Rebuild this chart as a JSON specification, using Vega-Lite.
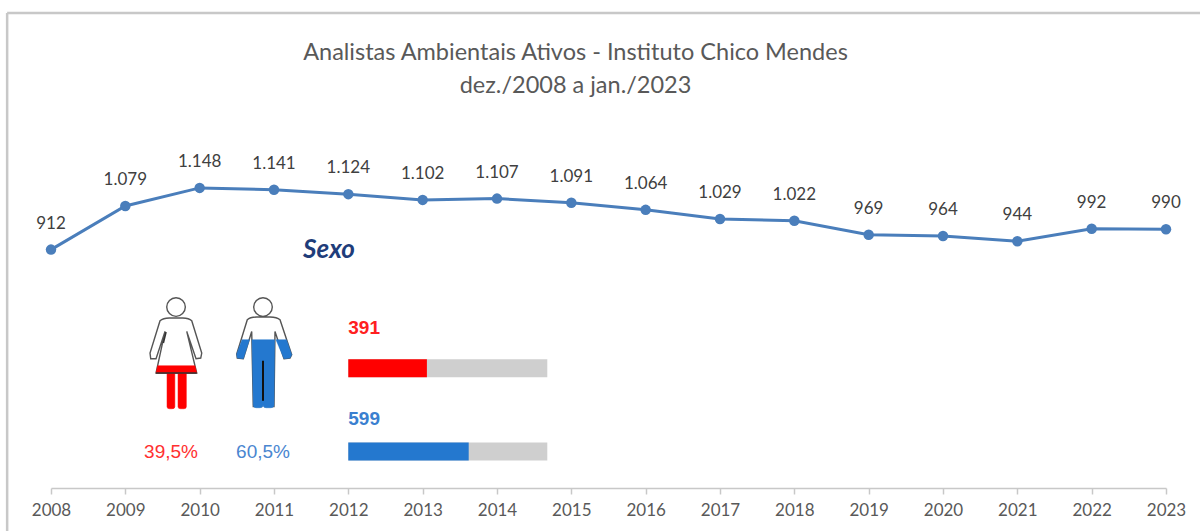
{
"$schema":"https://vega.github.io/schema/vega-lite/v6.json",
"width":1115,"height":475,
"autosize":{"type":"none"},
"padding":{"left":51,"top":13,"right":34,"bottom":43},
"background":"white",
"config":{"view":{"stroke":null}},
"title":{"text":["Analistas Ambientais Ativos - Instituto  Chico Mendes","dez./2008  a jan./2023"],"anchor":"middle","frame":"group","dx":-33,"dy":90,"font":"Lato","fontSize":23.5,"fontWeight":"normal","lineHeight":33,"color":"#595959"},
"datasets":{
"serie":[
{"ano":2008,"ativos":912,"rotulo":"912"},{"ano":2009,"ativos":1079,"rotulo":"1.079"},{"ano":2010,"ativos":1148,"rotulo":"1.148"},{"ano":2011,"ativos":1141,"rotulo":"1.141"},{"ano":2012,"ativos":1124,"rotulo":"1.124"},{"ano":2013,"ativos":1102,"rotulo":"1.102"},{"ano":2014,"ativos":1107,"rotulo":"1.107"},{"ano":2015,"ativos":1091,"rotulo":"1.091"},{"ano":2016,"ativos":1064,"rotulo":"1.064"},{"ano":2017,"ativos":1029,"rotulo":"1.029"},{"ano":2018,"ativos":1022,"rotulo":"1.022"},{"ano":2019,"ativos":969,"rotulo":"969"},{"ano":2020,"ativos":964,"rotulo":"964"},{"ano":2021,"ativos":944,"rotulo":"944"},{"ano":2022,"ativos":992,"rotulo":"992"},{"ano":2023,"ativos":990,"rotulo":"990"}],
"sexo":[
{"sexo":"Feminino","total":990,"n":391,"pct":"39,5%"},
{"sexo":"Masculino","total":990,"n":599,"pct":"60,5%"}]
},
"data":{"name":"serie"},
"resolve":{"scale":{"x":"independent","y":"independent","color":"independent"},"axis":{"x":"independent","y":"independent"}},
"layer":[
{"encoding":{
"x":{"field":"ano","type":"quantitative","scale":{"domain":[2008,2023],"nice":false,"zero":false},
"axis":{"values":[2008,2009,2010,2011,2012,2013,2014,2015,2016,2017,2018,2019,2020,2021,2022,2023],"format":"d","title":null,"grid":false,"domainColor":"#c8c8c8","domainWidth":1.5,"tickColor":"#c8c8c8","tickWidth":1.5,"tickSize":6,"labelFont":"Lato","labelFontSize":17,"labelColor":"#595959","labelPadding":8,"labelOverlap":false,"labelFlush":false}},
"y":{"field":"ativos","type":"quantitative","scale":{"domain":[0,1817],"nice":false,"zero":false},"axis":null}},
"layer":[
{"mark":{"type":"line","color":"#4a7ebb","strokeWidth":3}},
{"mark":{"type":"point","filled":true,"color":"#4a7ebb","opacity":1,"size":110}},
{"mark":{"type":"text","font":"Lato","fontSize":17,"color":"#404040","baseline":"middle","dy":-26},"encoding":{"text":{"field":"rotulo"}}}
]},
{"data":{"values":[{"item":"moldura"}]},"mark":{"type":"rule","color":"#c8c8c8","strokeWidth":2.5},"encoding":{"x":{"datum":2007.41,"type":"quantitative","scale":{"domain":[2008,2023],"nice":false,"zero":false},"axis":null},"y":{"datum":1817,"type":"quantitative","scale":{"domain":[0,1817],"nice":false,"zero":false},"axis":null},"y2":{"datum":-165}}},
{"data":{"values":[{"item":"moldura"}]},"mark":{"type":"rule","color":"#c8c8c8","strokeWidth":2.5},"encoding":{"x":{"datum":2007.41,"type":"quantitative","scale":{"domain":[2008,2023],"nice":false,"zero":false},"axis":null},"x2":{"datum":2023.46},"y":{"datum":1817,"type":"quantitative","scale":{"domain":[0,1817],"nice":false,"zero":false},"axis":null}}},
{"data":{"values":[{"item":"Sexo"}]},"mark":{"type":"text","font":"Lato","fontSize":26,"fontWeight":"bold","fontStyle":"italic","color":"#1f3d7a","baseline":"middle"},"encoding":{"x":{"datum":2011.74,"type":"quantitative","scale":{"domain":[2008,2023],"nice":false,"zero":false},"axis":null},"y":{"datum":910,"type":"quantitative","scale":{"domain":[0,1817],"nice":false,"zero":false},"axis":null},"text":{"field":"item"}}},
{"data":{"values":[{"sexo":"Feminino"}]},
"encoding":{"x":{"datum":2009.682,"type":"quantitative","scale":{"domain":[2008,2023],"nice":false,"zero":false},"axis":null},"y":{"datum":548,"type":"quantitative","scale":{"domain":[0,1817],"nice":false,"zero":false},"axis":null}},
"layer":[
{"mark":{"type":"point","shape":"M-6.7,-26.7 L6.7,-26.7 Q13,-26.5 15.7,-24 L25.7,8.3 L24.7,13.3 L20,14 L10.7,-13.3 L20.7,28.3 L-20,28.3 L-11,-13.3 L-20,14 L-25.3,14 L-26,8.3 L-16,-24 Q-13,-26.5 -6.7,-26.7 Z M-9.3,-37.7 a9.3,9.3 0 1,0 18.6,0 a9.3,9.3 0 1,0 -18.6,0 Z","size":4,"filled":true,"fill":"white","stroke":"#555555","strokeWidth":1.4,"opacity":1}},
{"mark":{"type":"point","shape":"M-18.4,21 L18.9,21 L20.7,28.3 L-20,28.3 Z M-9,28 L-1.2,28 L-1.2,62 Q-1.2,64 -4,64 L-6.5,64 Q-9,64 -9,62 Z M2,28 L10.3,28 L10.3,62 Q10.3,64 8,64 L4.5,64 Q2,64 2,62 Z","size":4,"filled":true,"fill":"#ff0000","stroke":"#ff0000","strokeWidth":0.5,"opacity":1}},
{"mark":{"type":"point","shape":"M-20,28.3 L20.7,28.3 M-10,-12.7 L-12.7,-1.7","size":4,"filled":false,"stroke":"#333333","strokeWidth":1.6,"opacity":1}}
]},
{"data":{"values":[{"sexo":"Masculino"}]},
"encoding":{"x":{"datum":2010.852,"type":"quantitative","scale":{"domain":[2008,2023],"nice":false,"zero":false},"axis":null},"y":{"datum":548,"type":"quantitative","scale":{"domain":[0,1817],"nice":false,"zero":false},"axis":null}},
"layer":[
{"mark":{"type":"point","shape":"M-6.3,-27.7 L7,-27.7 Q14,-27.5 17,-25 L28.7,10 L27,13.3 L21,14 L12,-13.3 L11,61.7 L2,61.7 L1.3,16 L-1.3,16 L-1.3,61.7 L-9.7,61.7 L-11.3,-13.3 L-19.7,14 L-25.7,13.3 L-26.3,9.3 L-15.7,-25 Q-13,-27.5 -6.3,-27.7 Z M-9.3,-37.7 a9.3,9.3 0 1,0 18.6,0 a9.3,9.3 0 1,0 -18.6,0 Z","size":4,"filled":true,"fill":"white","stroke":"#555555","strokeWidth":1.4,"opacity":1}},
{"mark":{"type":"point","shape":"M-11,-5 L11.6,-5 L11,60 Q11,63 8,63 L3,63 Q0,63 0,60 Q0,63 -3,63 L-7,63 Q-9.7,63 -9.7,60 Z M13,-5 L23.5,-5 L28.7,10 L27,13.3 L21,14 Z M-21,-5 L-13.5,-5 L-19.7,14 L-25.7,13.3 L-26.3,9.3 Z","size":4,"filled":true,"fill":"#2478cf","stroke":"#2478cf","strokeWidth":0.5,"opacity":1}},
{"mark":{"type":"point","shape":"M0,16 L0,56","size":4,"filled":false,"stroke":"#111111","strokeWidth":2,"opacity":1}}
]},
{"data":{"name":"sexo"},
"encoding":{"y":{"field":"sexo","type":"nominal","scale":{"type":"point","padding":0,"domain":["Feminino","Masculino"],"range":[355.3,438.5]},"axis":null}},
"layer":[
{"mark":{"type":"bar","color":"#cfcfcf","size":18},"encoding":{"x":{"field":"total","type":"quantitative","stack":null,"scale":{"domain":[0,990],"range":[297.3,496.3],"nice":false},"axis":null}}},
{"mark":{"type":"bar","size":18},"encoding":{"x":{"field":"n","type":"quantitative","stack":null,"axis":null},"color":{"field":"sexo","type":"nominal","scale":{"domain":["Feminino","Masculino"],"range":["#ff0000","#2478cf"]},"legend":null}}}
]},
{"data":{"name":"sexo"},
"mark":{"type":"text","font":"Liberation Sans","fontSize":19,"fontWeight":"bold","align":"left","baseline":"middle"},
"encoding":{
"x":{"datum":0,"type":"quantitative","scale":{"domain":[0,990],"range":[297.3,496.3],"nice":false},"axis":null},
"y":{"field":"sexo","type":"nominal","scale":{"type":"point","padding":0,"domain":["Feminino","Masculino"],"range":[315,406]},"axis":null},
"text":{"field":"n"},
"color":{"field":"sexo","type":"nominal","scale":{"domain":["Feminino","Masculino"],"range":["#ff2020","#3a80d0"]},"legend":null}}},
{"data":{"name":"sexo"},
"mark":{"type":"text","font":"Liberation Sans","fontSize":19,"baseline":"middle"},
"encoding":{
"x":{"field":"sexo","type":"nominal","scale":{"type":"point","padding":0,"domain":["Feminino","Masculino"],"range":[120,212]},"axis":null},
"y":{"datum":138,"type":"quantitative","scale":{"domain":[0,1817],"nice":false,"zero":false},"axis":null},
"text":{"field":"pct"},
"color":{"field":"sexo","type":"nominal","scale":{"domain":["Feminino","Masculino"],"range":["#ff3030","#4a86d0"]},"legend":null}}}
]
}
